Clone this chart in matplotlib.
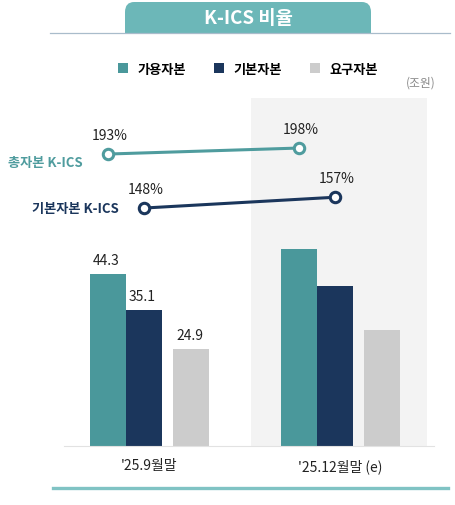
import numpy as np
import matplotlib.pyplot as plt
from matplotlib.patches import FancyBboxPatch, Rectangle, Patch
from matplotlib.lines import Line2D

plt.rcParams['font.family'] = ['Noto Sans CJK KR', 'DejaVu Sans']

# data
periods = ["'25.9월말", "'25.12월말 (e)"]
series_names = ['가용자본', '기본자본', '요구자본']
avail = [44.3, 50.8]
basic = [35.1, 41.3]
required = [24.9, 30.0]
show_values = [True, False]
total_ratio = [193, 198]
basic_ratio = [148, 157]

teal = '#4a989b'
navy = '#1b365c'
grey = '#cccccc'
line_teal = '#4f9c9e'

W, H = 456, 506
fig = plt.figure(figsize=(W / 100, H / 100), dpi=100)

# title tab
fig.patches.append(FancyBboxPatch((125 / W, 1 - 34 / H), 246 / W, 31 / H,
                                  boxstyle='round,pad=0,rounding_size=0.02',
                                  transform=fig.transFigure, fc='#6cb7b8', ec='none'))
fig.patches.append(Rectangle((125 / W, 1 - 34 / H), 246 / W, 14 / H,
                             transform=fig.transFigure, fc='#6cb7b8', ec='none'))
fig.lines.append(Line2D([50 / W, 450 / W], [1 - 34 / H, 1 - 34 / H],
                        transform=fig.transFigure, color='#a9bccb', lw=0.9))
fig.text(248 / W, 1 - 19 / H, 'K-ICS 비율', color='white', fontsize=13.5,
         fontweight='bold', ha='center', va='center')

# legend
handles = [Patch(fc=c, ec='none', label=n) for c, n in zip([teal, navy, grey], series_names)]
fig.legend(handles=handles, loc='center', bbox_to_anchor=(248 / W, 1 - 70 / H), ncol=3,
           frameon=False, handlelength=0.8, handleheight=0.8, handletextpad=0.7,
           columnspacing=2.1, prop={'size': 9.5, 'weight': 'bold'})
fig.text(421 / W, 1 - 83 / H, '(조원)', color='#8a8a8a', fontsize=8.5, ha='center', va='center')

# bars
ax = fig.add_axes([64 / W, (H - 447) / H, 370 / W, 348 / H])
ax.set_facecolor('none')
ax.set_xlim(-0.4476, 1.4895)
ax.set_ylim(0, 348 / 3.88)
x = np.arange(len(periods))
width = 0.1885
offsets = [-0.2173, -0.0288, 0.2173]
ax.axvspan(0.531, 1.453, color='#f3f3f3', zorder=0, lw=0)
for vals, off, c in zip([avail, basic, required], offsets, [teal, navy, grey]):
    bars = ax.bar(x + off, vals, width, color=c, zorder=2)
    for b, v, show in zip(bars, vals, show_values):
        if show:
            ax.annotate(f'{v:.1f}', (b.get_x() + b.get_width() / 2, v),
                        xytext=(-1, 10), textcoords='offset points',
                        ha='center', va='center', fontsize=10, color='#222222')

for s in ['top', 'left', 'right']:
    ax.spines[s].set_visible(False)
ax.spines['bottom'].set_color('#e2e2e2')
ax.set_yticks([])
ax.set_xticks(x)
ax.set_xticklabels(periods, fontsize=10, color='#222222')
ax.tick_params(axis='x', length=0, pad=9)

# ratio lines
ax2 = ax.twinx()
ax2.set_ylim(-50.3, 239.7)
ax2.axis('off')
for vals, off, c, name in [(total_ratio, offsets[0], line_teal, '총자본 K-ICS'),
                           (basic_ratio, offsets[1], navy, '기본자본 K-ICS')]:
    ax2.plot(x + off, vals, color=c, lw=2.2, marker='o', ms=7.5,
             mfc='white', mec=c, mew=2.2, zorder=3)
    for xi, v in zip(x + off, vals):
        ax2.annotate(f'{v}%', (xi, v), xytext=(1, 14), textcoords='offset points',
                     ha='center', va='center', fontsize=10, color='#222222')
    dy = -6 if name.startswith('총') else 0
    ax2.annotate(name, (x[0] + off, vals[0]), xytext=(-18, dy), textcoords='offset points',
                 ha='right', va='center', fontsize=9.5, fontweight='bold', color=c)

# bottom rule
fig.lines.append(Line2D([53 / W, 448 / W], [1 - 489 / H, 1 - 489 / H],
                        transform=fig.transFigure, color='#80c3c4', lw=2.4))

fig.savefig('out.png', dpi=100)
